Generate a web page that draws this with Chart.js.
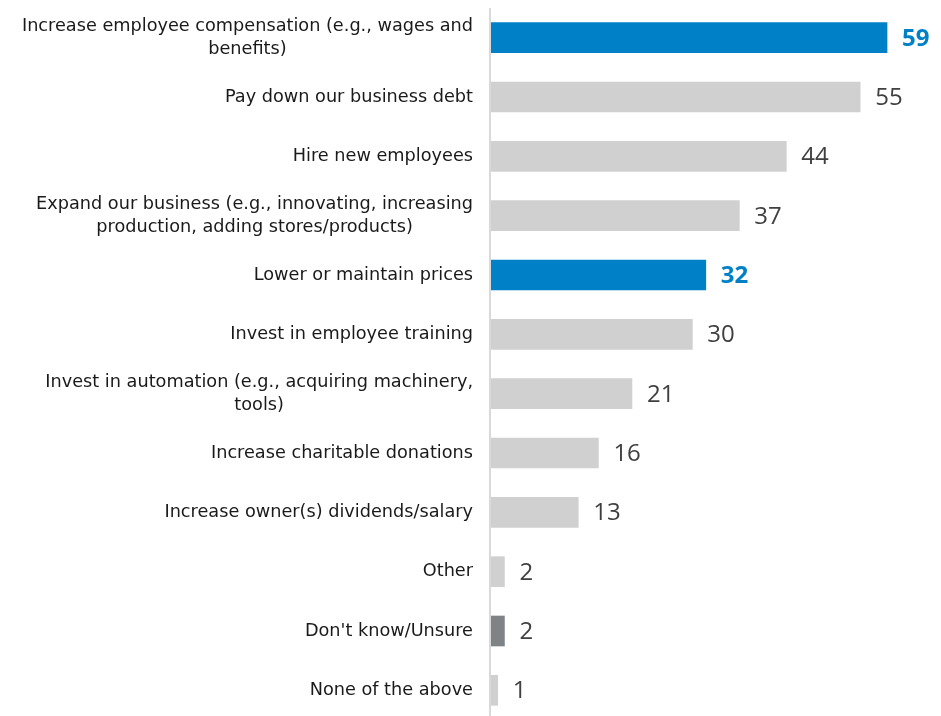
<!DOCTYPE html>
<html>
<head>
<meta charset="utf-8">
<script src="https://cdn.jsdelivr.net/npm/chart.js@4.4.0/dist/chart.umd.min.js"></script>
<style>
  html, body { margin: 0; padding: 0; background: #fff; overflow: hidden; }
  #wrap { position: relative; width: 941px; height: 720px; }
</style>
</head>
<body>
<div id="wrap"><canvas id="chart"></canvas></div>
<script>
// categories, one array per wrapped label
const categories = [
    ['Increase employee compensation (e.g., wages and', 'benefits)'],
    ['Pay down our business debt'],
    ['Hire new employees'],
    ['Expand our business (e.g., innovating, increasing', 'production, adding stores/products)'],
    ['Lower or maintain prices'],
    ['Invest in employee training'],
    ['Invest in automation (e.g., acquiring machinery,', 'tools)'],
    ['Increase charitable donations'],
    ['Increase owner(s) dividends/salary'],
    ['Other'],
    ["Don't know/Unsure"],
    ['None of the above']
];
const values = [59, 55, 44, 37, 32, 30, 21, 16, 13, 2, 2, 1];
// which bars are highlighted / "don't know"
const highlight = [true, false, false, false, true, false, false, false, false, false, false, false];
const unsure = [false, false, false, false, false, false, false, false, false, false, true, false];

const BLUE = '#0080c6';
const GRAY = '#d0d0d0';
const DARK = '#7f8385';

const barColors = values.map((v, i) => highlight[i] ? BLUE : (unsure[i] ? DARK : GRAY));

// draws the category labels (centred block, right edge near axis) and the value labels
const labelPlugin = {
    id: 'labels',
    afterDatasetsDraw(chart) {
        const ctx = chart.ctx;
        const yScale = chart.scales.y;
        const meta = chart.getDatasetMeta(0);
        const area = chart.chartArea;
        ctx.save();

        // axis line
        ctx.strokeStyle = '#d9d9d9';
        ctx.lineWidth = 2;
        ctx.beginPath();
        ctx.moveTo(area.left - 1, 8);
        ctx.lineTo(area.left - 1, chart.height);
        ctx.stroke();

        ctx.font = '17.7px "DejaVu Sans"';
        ctx.fillStyle = '#1a1a1a';
        ctx.textBaseline = 'middle';
        ctx.textAlign = 'center';
        const lineH = 23;
        categories.forEach((lines, i) => {
            const y = yScale.getPixelForValue(i);
            const w = Math.max(...lines.map(l => ctx.measureText(l).width));
            const cx = area.left - 18 - w / 2;
            const y0 = y - (lines.length - 1) * lineH / 2;
            lines.forEach((l, k) => ctx.fillText(l, cx, y0 + k * lineH));
        });

        ctx.textAlign = 'left';
        meta.data.forEach((bar, i) => {
            ctx.font = highlight[i] ? 'bold 24px "Open Sans"' : '24px "Open Sans"';
            ctx.fillStyle = highlight[i] ? BLUE : '#404040';
            ctx.fillText(String(values[i]), bar.x + 15, bar.y + 1);
        });
        ctx.restore();
    }
};

new Chart(document.getElementById('chart'), {
    type: 'bar',
    data: {
        labels: categories.map(c => c.join(' ')),
        datasets: [{
            data: values,
            backgroundColor: barColors,
            borderWidth: 0,
            barThickness: 30
        }]
    },
    options: {
        indexAxis: 'y',
        responsive: true,
        maintainAspectRatio: false,
        animation: false,
        layout: { padding: { left: 491, right: 7, top: 8, bottom: 0 } },
        plugins: { legend: { display: false }, tooltip: { enabled: false } },
        scales: {
            x: { min: 0, max: 66, display: false },
            y: { display: false, grid: { display: false } }
        }
    },
    plugins: [labelPlugin]
});
</script>
</body>
</html>
